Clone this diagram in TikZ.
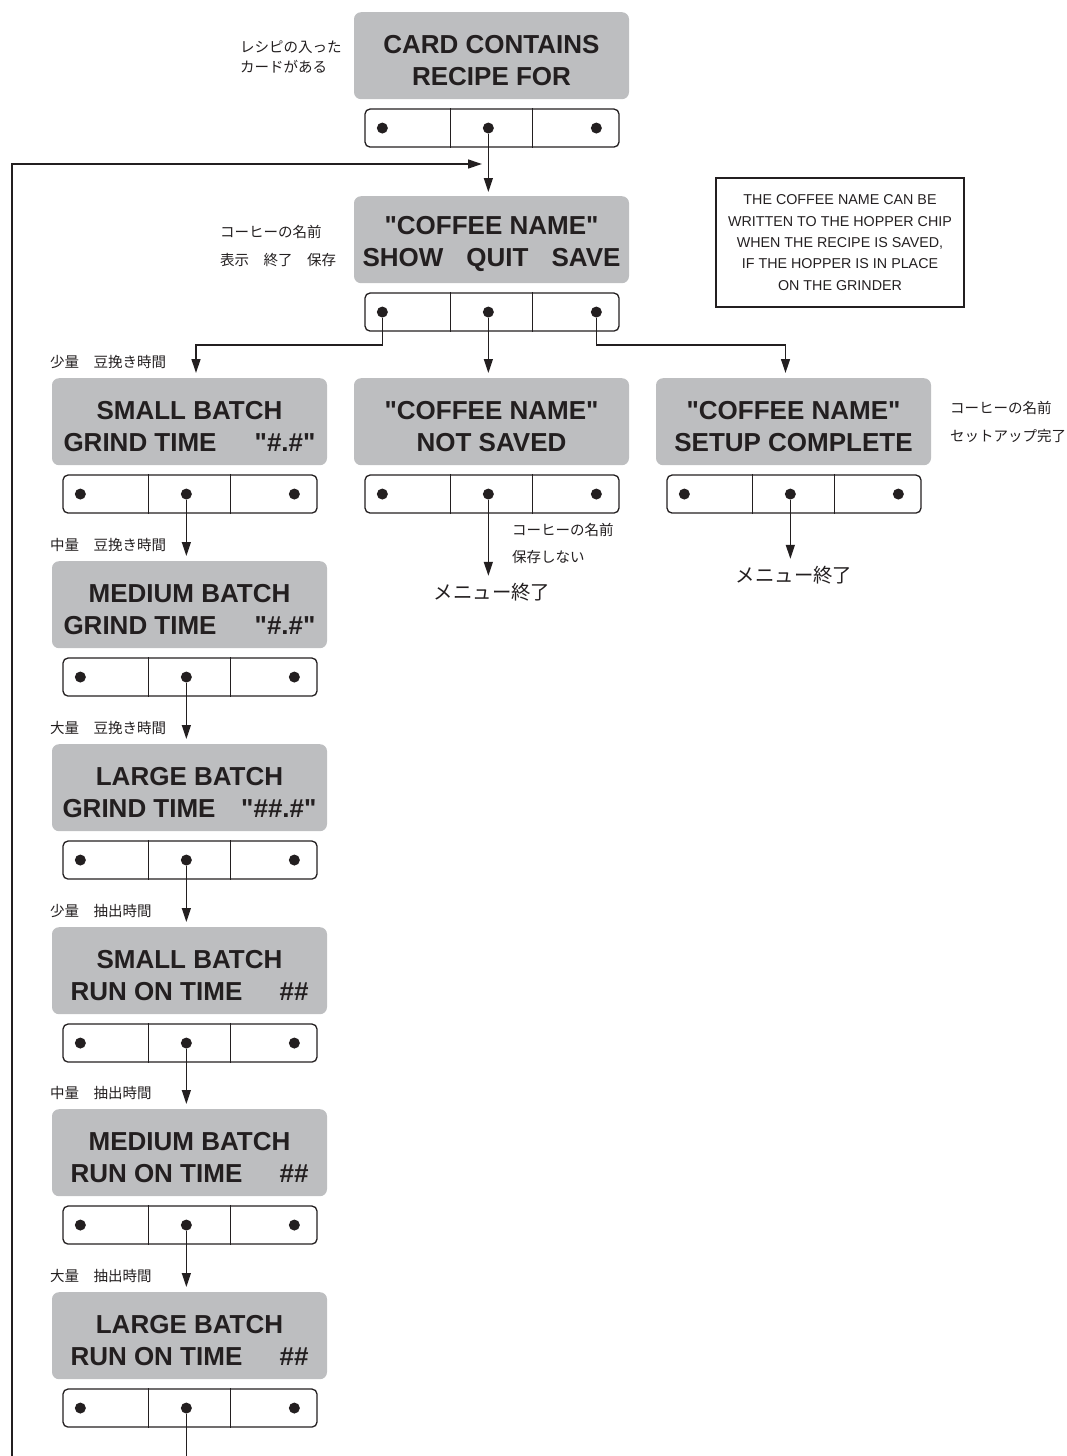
\documentclass[tikz,border=0pt]{standalone}
\usepackage{fontspec}
\setmainfont{Liberation Sans}
\newfontfamily\jp{Noto Sans CJK JP}
\usepackage{xcolor}
\usetikzlibrary{arrows.meta,positioning,calc}
\definecolor{panelgray}{RGB}{189,190,192}
\definecolor{ink}{RGB}{35,31,32}
\newcommand{\qq}{\textquotedbl}

\tikzset{
  panel/.style={fill=panelgray, rounded corners=7pt, minimum width=275pt, minimum height=87pt,
    align=center, inner sep=0pt, text=ink, font=\fontsize{26}{32}\selectfont\bfseries},
  keys/.style={draw=ink, line width=1.3pt, rounded corners=5pt, minimum width=254pt,
    minimum height=38pt, inner sep=0pt},
  dot/.style={circle, fill=ink, inner sep=0pt, minimum size=11pt},
  wire/.style={draw=ink, line width=1.3pt},
  flow/.style={wire, -{Triangle[length=14pt,width=9pt]}},
  lbl/.style={inner sep=0pt, align=left, text=ink, font=\jp\fontsize{14.5}{28}\selectfont},
}

\begin{document}
\begin{tikzpicture}[x=1pt, y=-1pt]
    \useasboundingbox (0,0) rectangle (1067,1456);

    % 表示パネルとボタン
    \foreach \n/\x/\y/\txt in {
        card/491.5/12/{CARD CONTAINS\\RECIPE FOR},
        name/491.5/196/{\qq COFFEE NAME\qq\\\makebox[258pt]{SHOW\hfill QUIT\hfill SAVE}},
        nsave/491.5/378/{\qq COFFEE NAME\qq\\NOT SAVED},
        done/793.5/378/{\qq COFFEE NAME\qq\\SETUP COMPLETE},
        sgrind/189.5/378/{SMALL BATCH\\\makebox[252pt]{GRIND TIME\hfill\qq\#.\#\qq}},
        mgrind/189.5/561/{MEDIUM BATCH\\\makebox[252pt]{GRIND TIME\hfill\qq\#.\#\qq}},
        lgrind/189.5/744/{LARGE BATCH\\\makebox[254pt]{GRIND TIME\hfill\qq\#\#.\#\qq}},
        srun/189.5/927/{SMALL BATCH\\\makebox[238pt]{RUN ON TIME\hfill\#\#}},
        mrun/189.5/1109/{MEDIUM BATCH\\\makebox[238pt]{RUN ON TIME\hfill\#\#}},
        lrun/189.5/1292/{LARGE BATCH\\\makebox[238pt]{RUN ON TIME\hfill\#\#}}} {
        \node[panel, anchor=north] (\n) at (\x,\y) {\rule{0pt}{27pt}\txt};
        \node[keys, anchor=north] (\n-k) at ($(\n.south)+(0.5,9)$) {};
        \draw[wire] ([xshift=86pt]\n-k.north west) -- ([xshift=86pt]\n-k.south west)
                    ([xshift=168pt]\n-k.north west) -- ([xshift=168pt]\n-k.south west);
        \node[dot] (\n-l) at ([xshift=18pt]\n-k.west) {};
        \node[dot] (\n-m) at ([xshift=124pt]\n-k.west) {};
        \node[dot] (\n-r) at ([xshift=232pt]\n-k.west) {};
    }

    % 注記
    \node[draw=ink, line width=2.8pt, minimum width=248pt, minimum height=129pt, align=center,
          text=ink, font=\fontsize{14.3}{21.3}\selectfont] (note) at (840,242.5)
          {THE COFFEE NAME CAN BE\\WRITTEN TO THE HOPPER CHIP\\WHEN THE RECIPE IS SAVED,\\
           IF THE HOPPER IS IN PLACE\\ON THE GRINDER};

    % ラベル
    \node[lbl, anchor=west, font=\jp\fontsize{14.5}{20}\selectfont] (card-lbl) at (240,57) {レシピの入った\\カードがある};
    \node[lbl, anchor=west] (name-lbl) at (220,246) {コーヒーの名前\\表示　終了　保存};
    \node[lbl, anchor=west] (done-lbl) at (950,422) {コーヒーの名前\\セットアップ完了};
    \node[lbl, anchor=west, font=\jp\fontsize{14.5}{27}\selectfont] (nsave-lbl) at (512,543.5) {コーヒーの名前\\保存しない};
    \foreach \n/\t in {sgrind/少量　豆挽き時間, mgrind/中量　豆挽き時間, lgrind/大量　豆挽き時間,
                       srun/少量　抽出時間, mrun/中量　抽出時間, lrun/大量　抽出時間}
        \node[lbl, anchor=west] (\n-lbl) at ([xshift=-2pt, yshift=16pt]\n.north west) {\t};

    % メニュー終了
    \node[text=ink, inner sep=1pt, font=\jp\fontsize{19.4}{22}\selectfont] (quit1) at (492,592) {メニュー終了};
    \node[text=ink, inner sep=1pt, font=\jp\fontsize{19.4}{22}\selectfont] (quit2) at (794,575) {メニュー終了};

    % 接続
    \draw[flow, shorten >=4pt] (card-m) -- (card-m |- name.north);
    \draw[flow, shorten >=5pt] (name-l) -- ++(0,33) -| ([xshift=6.5pt]sgrind.north);
    \draw[flow, shorten >=5pt] (name-m) -- (name-m |- nsave.north);
    \draw[flow, shorten >=5pt] (name-r) -- ++(0,33) -| ([xshift=-8pt]done.north);
    \draw[flow, shorten >=6pt] (nsave-m) -- (nsave-m |- quit1.north);
    \draw[flow, shorten >=6pt] (done-m) -- (done-m |- quit2.north);
    \foreach \a/\b in {sgrind/mgrind, mgrind/lgrind, lgrind/srun, srun/mrun, mrun/lrun}
        \draw[flow, shorten >=5pt] (\a-m) -- (\a-m |- \b.north);

    % ループ
    \coordinate (loopL) at (12,1456);
    \coordinate (loopEnd) at (482,164);
    \draw[wire] (lrun-m) -- (lrun-m |- loopL);
    \draw[flow] (loopL) |- (loopEnd);
\end{tikzpicture}
\end{document}
